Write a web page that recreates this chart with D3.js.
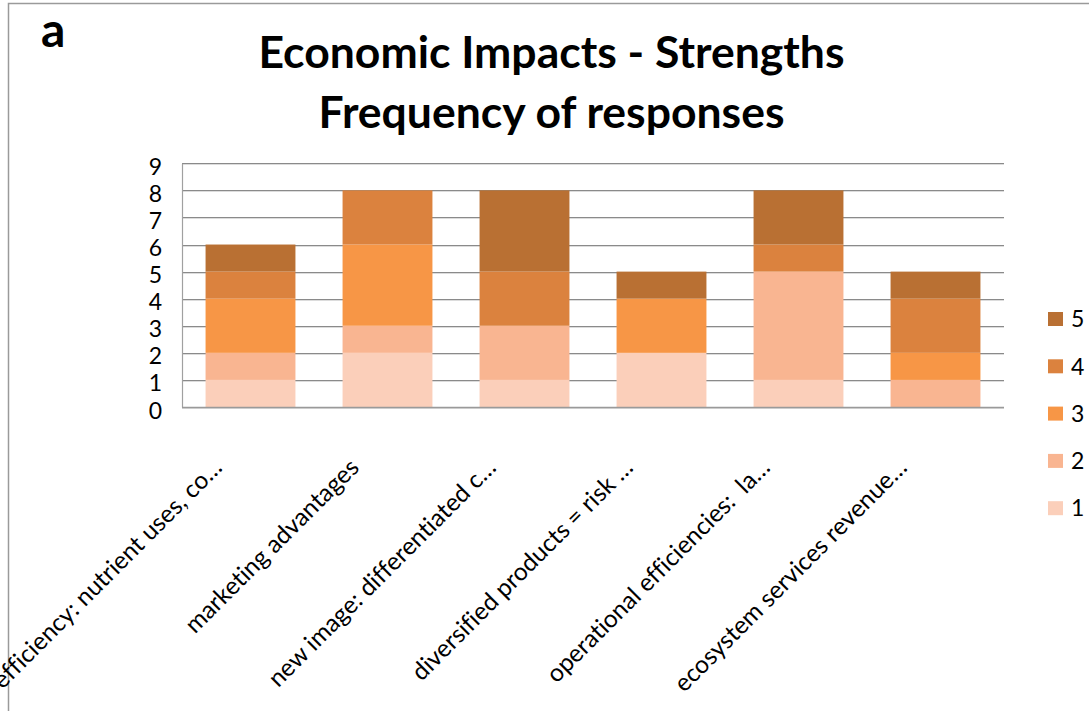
<!DOCTYPE html>
<html>
<head>
<meta charset="utf-8">
<script src="https://cdn.jsdelivr.net/npm/d3@7"></script>
<style>
  html, body { margin: 0; padding: 0; background: #fff; }
  svg { display: block; }
  text { font-family: Lato, "Open Sans", sans-serif; fill: #000; font-variant-ligatures: none; }
</style>
</head>
<body>
<svg id="chart" width="1089" height="711"></svg>
<script>
// Survey categories (labels as shown, truncated)
const categories = [
  "efficiency: nutrient uses, co…",
  "marketing advantages",
  "new image: differentiated c…",
  "diversified products = risk …",
  "operational efficiencies:  la…",
  "ecosystem services revenue…"
];

// Number of responses at each rating level, per category
const rating1 = [1, 2, 1, 2, 1, 0];
const rating2 = [1, 1, 2, 0, 4, 1];
const rating3 = [2, 3, 0, 2, 0, 1];
const rating4 = [1, 2, 2, 0, 1, 2];
const rating5 = [1, 0, 3, 1, 2, 1];

const seriesNames = ["1", "2", "3", "4", "5"];
const seriesColors = ["#fbcfba", "#f9b591", "#f79646", "#db823e", "#b97033"];
const yTicks = [0, 1, 2, 3, 4, 5, 6, 7, 8, 9];

const titleLine1 = "Economic Impacts - Strengths";
const titleLine2 = "Frequency of responses";
const panelLabel = "a";

const ratings = [rating1, rating2, rating3, rating4, rating5];
const rows = categories.map((c, i) => {
  const r = { category: c };
  seriesNames.forEach((s, k) => { r[s] = ratings[k][i]; });
  return r;
});

const svg = d3.select("#chart");

// outer chart frame
svg.append("rect")
  .attr("x", 8.5).attr("y", 3.5)
  .attr("width", 1200).attr("height", 800)
  .attr("fill", "none")
  .attr("stroke", "#9a9a9a")
  .attr("stroke-width", 1.5);

const plot = { left: 182, right: 1004, top: 163.3, bottom: 407 };

const x = d3.scaleBand()
  .domain(categories)
  .range([plot.left, plot.right])
  .paddingInner(0.344)
  .paddingOuter(0.172);

const y = d3.scaleLinear()
  .domain([0, 9])
  .range([plot.bottom, plot.top]);

const color = d3.scaleOrdinal().domain(seriesNames).range(seriesColors);

// horizontal gridlines (dark line with a light edge beneath)
const grid = svg.append("g");
grid.selectAll("line.shadow")
  .data(yTicks)
  .join("line")
  .attr("class", "shadow")
  .attr("x1", plot.left).attr("x2", plot.right)
  .attr("y1", d => Math.round(y(d)) + 1.5)
  .attr("y2", d => Math.round(y(d)) + 1.5)
  .attr("stroke", "#dcdcdc").attr("stroke-width", 1);
grid.selectAll("line.main")
  .data(yTicks)
  .join("line")
  .attr("class", "main")
  .attr("x1", plot.left).attr("x2", plot.right)
  .attr("y1", d => Math.round(y(d)) + 0.5)
  .attr("y2", d => Math.round(y(d)) + 0.5)
  .attr("stroke", "#8a8a8a").attr("stroke-width", 1);

// stacked bars
const stack = d3.stack().keys(seriesNames);
const layers = stack(rows);

svg.append("g")
  .selectAll("g")
  .data(layers)
  .join("g")
  .attr("fill", d => color(d.key))
  .selectAll("rect")
  .data(d => d)
  .join("rect")
  .attr("x", d => x(d.data.category))
  .attr("width", x.bandwidth())
  .attr("y", d => y(d[1]))
  .attr("height", d => y(d[0]) - y(d[1]));

// y axis
const yAxis = svg.append("g")
  .attr("transform", `translate(${plot.left},0)`)
  .call(d3.axisLeft(y).tickValues(yTicks).tickSize(0).tickPadding(20).tickFormat(d3.format("d")));
yAxis.select(".domain").attr("stroke", "#a0a0a0").attr("stroke-width", 1.2);
yAxis.selectAll("text")
  .attr("font-family", "Lato, sans-serif")
  .attr("font-size", 23)
  .attr("dy", "0.48em")
  .attr("fill", "#000");

// x axis baseline
svg.append("line")
  .attr("x1", plot.left).attr("x2", plot.right)
  .attr("y1", plot.bottom + 0.5).attr("y2", plot.bottom + 0.5)
  .attr("stroke", "#9a9a9a").attr("stroke-width", 1.5);

// rotated category labels
svg.append("g")
  .selectAll("text")
  .data(categories)
  .join("text")
  .attr("transform", d => `translate(${x(d) + x.bandwidth() / 2 - 27},${plot.bottom + 62}) rotate(-45)`)
  .attr("text-anchor", "end")
  .attr("font-size", 24.5)
  .style("white-space", "pre")
  .text(d => d);

// titles
svg.append("text")
  .attr("x", 551.5).attr("y", 67.7)
  .attr("text-anchor", "middle")
  .attr("font-size", 44.5)
  .attr("font-weight", "bold")
  .text(titleLine1);
svg.append("text")
  .attr("x", 551.5).attr("y", 127.5)
  .attr("text-anchor", "middle")
  .attr("font-size", 44.5)
  .attr("font-weight", "bold")
  .text(titleLine2);

svg.append("text")
  .attr("x", 41).attr("y", 47)
  .attr("font-family", "'Liberation Sans', Arial, sans-serif")
  .attr("font-size", 48)
  .attr("font-weight", "bold")
  .text(panelLabel);

// legend (highest rating on top)
const legendKeys = seriesNames.slice().reverse();
const legend = svg.append("g")
  .selectAll("g")
  .data(legendKeys)
  .join("g")
  .attr("transform", (d, i) => `translate(1048,${319 + i * 47.3})`);
legend.append("rect")
  .attr("x", 0).attr("y", -7)
  .attr("width", 15).attr("height", 14)
  .attr("fill", d => color(d));
legend.append("text")
  .attr("x", 23).attr("y", 0)
  .attr("dy", "0.36em")
  .attr("font-size", 23)
  .text(d => d);
</script>
</body>
</html>
